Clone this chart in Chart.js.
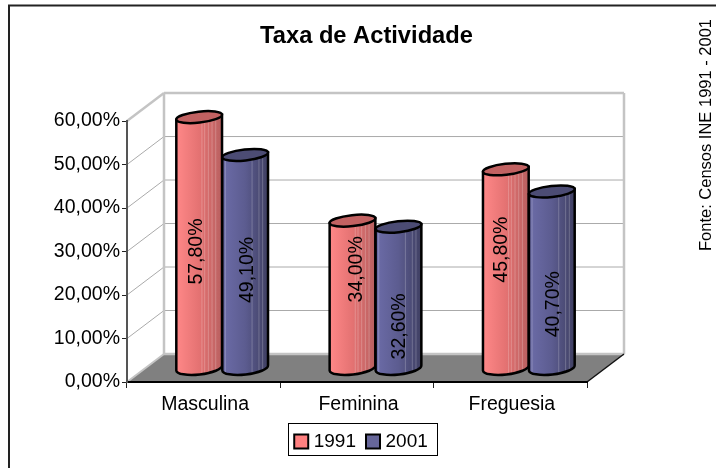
<!DOCTYPE html>
<html>
<head>
<meta charset="utf-8">
<style>html,body{margin:0;padding:0;background:#fff}canvas{display:block}</style>
<script src="https://cdn.jsdelivr.net/npm/chart.js@4/dist/chart.umd.js"></script>
</head>
<body>
<canvas id="c" width="716" height="468" style="width:716px;height:468px"></canvas>
<script>
const categories = ['Masculina', 'Feminina', 'Freguesia'];
const series1991 = [57.8, 34.0, 45.8];
const series2001 = [49.1, 32.6, 40.7];
const seriesNames = ['1991', '2001'];
const titleText = 'Taxa de Actividade';
const sourceText = 'Fonte: Censos INE 1991 - 2001';

const FONT = '"Liberation Sans", Arial, sans-serif';
const DEPTH_X = 37, DEPTH_Y = 28;        // oblique offset of the back wall
const BAR_DX = 18.5, BAR_DY = -13.5;     // cylinders stand mid-floor
const TILT = -0.11, CAP_RY = 5.5;
const shades = [
  {stops: ['#FF8888', '#E47272', '#B86060'], cap: '#C26262', streaks: [0.56, 0.62, 0.7, 0.78, 0.86]},
  {stops: ['#6C6CA8', '#5C5C90', '#3F3F62'], cap: '#4C4C74', streaks: [0.07, 0.65, 0.8, 0.88]}
];
// Excel placed its rotated labels irregularly: offsets from each bar's middle
const labelOffsets = [
  [{x: -3, y: 9}, {x: 4.5, y: -25}, {x: -4.3, y: -19}],
  [{x: 2.5, y: 8.5}, {x: 1.5, y: 29}, {x: 2, y: 24.5}]
];
const fmt = v => v.toFixed(2).replace('.', ',') + '%';

function line(ctx, x1, y1, x2, y2, color, width) {
  ctx.beginPath(); ctx.moveTo(x1, y1); ctx.lineTo(x2, y2);
  ctx.strokeStyle = color; ctx.lineWidth = width; ctx.stroke();
}

function drawCylinders(chart, index) {
  const {ctx} = chart;
  const shade = shades[index];
  chart.getDatasetMeta(index).data.forEach(el => {
    const {x, y, base, width} = el.getProps(['x', 'y', 'base', 'width'], true);
    const cx = x + BAR_DX, top = y + BAR_DY, bot = base + BAR_DY, rx = width / 2;
    const ex = rx * Math.cos(TILT), ey = rx * Math.sin(TILT);
    ctx.save();
    const body = new Path2D();
    body.moveTo(cx - ex, top - ey);
    body.lineTo(cx - ex, bot - ey);
    body.ellipse(cx, bot, rx, CAP_RY + 1, TILT, Math.PI, 0, true);
    body.lineTo(cx + ex, top + ey);
    body.closePath();
    const g = ctx.createLinearGradient(cx - rx, 0, cx + rx, 0);
    shade.stops.forEach((c, i) => g.addColorStop(i / (shade.stops.length - 1), c));
    ctx.fillStyle = g; ctx.fill(body);
    ctx.save(); ctx.clip(body);
    shade.streaks.forEach(f => line(ctx, cx - rx + f * width, top - 10, cx - rx + f * width, bot + 10, 'rgba(255,255,255,0.22)', 1));
    ctx.restore();
    ctx.strokeStyle = '#000'; ctx.lineWidth = 2.5; ctx.stroke(body);
    ctx.beginPath();
    ctx.ellipse(cx, top, rx, CAP_RY, TILT, 0, Math.PI * 2);
    ctx.fillStyle = shade.cap; ctx.fill(); ctx.stroke();
    ctx.restore();
  });
}

const scene = {
  id: 'scene',
  afterLayout(chart) {
    const shift = (box, d) => { box.left += d; box.right += d; };
    shift(chart.titleBlock, 73);
    shift(chart.legend, 69.5);
  },
  beforeDraw(chart) {
    const {ctx, chartArea: a, scales: {y}} = chart;
    const dx = DEPTH_X, dy = DEPTH_Y;
    ctx.save();
    // outer frame (cut off by the picture on the right and at the bottom)
    ctx.strokeStyle = '#222'; ctx.lineWidth = 2;
    ctx.strokeRect(9, 5.5, 760, 520);
    // floor
    ctx.beginPath();
    ctx.moveTo(a.left, a.bottom); ctx.lineTo(a.left + dx, a.bottom - dy);
    ctx.lineTo(a.right + dx, a.bottom - dy); ctx.lineTo(a.right, a.bottom); ctx.closePath();
    ctx.fillStyle = '#808080'; ctx.fill();
    // gridlines
    y.ticks.forEach(t => {
      if (t.value === 0 || t.value === y.max) return;
      const p = y.getPixelForValue(t.value);
      line(ctx, a.left, p, a.left + dx, p - dy, '#aaa', 1);
      line(ctx, a.left + dx, p - dy, a.right + dx, p - dy, '#aaa', 1);
    });
    // wall edges
    const edge = '#c4c4c4';
    line(ctx, a.left, a.top, a.left + dx, a.top - dy, edge, 2.5);
    line(ctx, a.left + dx, a.top - dy, a.right + dx, a.top - dy, edge, 2.5);
    line(ctx, a.left + dx, a.top - dy, a.left + dx, a.bottom - dy, edge, 2.5);
    line(ctx, a.right + dx, a.top - dy, a.right + dx, a.bottom - dy, edge, 2.5);
    line(ctx, a.left + dx, a.bottom - dy, a.right + dx, a.bottom - dy, edge, 2.5);
    line(ctx, a.left, a.bottom, a.left + dx, a.bottom - dy, edge, 2);
    line(ctx, a.right, a.bottom, a.right + dx, a.bottom - dy, '#111', 1.5);
    ctx.restore();
  },
  beforeDatasetDraw() {
    return false;           // cylinders replace the flat bars
  },
  afterDatasetsDraw(chart) {
    const {ctx} = chart;
    chart.data.datasets.forEach((ds, i) => drawCylinders(chart, i));
    ctx.save();
    ctx.font = '19.5px ' + FONT; ctx.fillStyle = '#000';
    ctx.textAlign = 'center'; ctx.textBaseline = 'middle';
    chart.data.datasets.forEach((ds, i) => {
      chart.getDatasetMeta(i).data.forEach((el, j) => {
        const {x, y, base} = el.getProps(['x', 'y', 'base'], true);
        const off = labelOffsets[i][j];
        ctx.save();
        ctx.translate(x + BAR_DX + off.x, (y + base) / 2 + BAR_DY + off.y);
        ctx.rotate(-Math.PI / 2);
        ctx.fillText(fmt(ds.data[j]), 0, 0);
        ctx.restore();
      });
    });
    // source note
    ctx.font = '16.5px ' + FONT;
    ctx.translate(706.5, 135);
    ctx.rotate(-Math.PI / 2);
    ctx.fillText(sourceText, 0, 0);
    ctx.restore();
    // legend frame
    const lg = chart.legend, mx = (lg.left + lg.right) / 2, my = (lg.top + lg.bottom) / 2;
    ctx.save();
    ctx.strokeStyle = '#000'; ctx.lineWidth = 1;
    ctx.strokeRect(Math.round(mx - 75) + 0.5, Math.round(my - 16.5) + 0.5, 149, 32);
    ctx.restore();
  }
};

new Chart(document.getElementById('c'), {
  type: 'bar',
  plugins: [scene],
  data: {
    labels: categories,
    datasets: [
      {label: seriesNames[0], data: series1991, backgroundColor: '#FF8080', borderColor: '#000', borderWidth: 2},
      {label: seriesNames[1], data: series2001, backgroundColor: '#666699', borderColor: '#000', borderWidth: 2}
    ]
  },
  options: {
    responsive: false,
    animation: false,
    events: [],
    layout: {padding: {left: 0, right: 129, top: 0, bottom: 7}},
    categoryPercentage: 0.6,
    barPercentage: 1,
    scales: {
      x: {
        afterFit: s => { s.height = 36; },
        grid: {drawOnChartArea: false, drawTicks: true, tickLength: 6, tickColor: '#222', tickWidth: 1},
        border: {color: '#000', width: 2},
        ticks: {color: '#000', font: {family: FONT, size: 19.5}, padding: 5, maxRotation: 0, labelOffset: 1.5}
      },
      y: {
        min: 0, max: 60,
        afterFit: s => { s.width = 127; },
        grid: {drawOnChartArea: false, drawTicks: true, tickLength: 5, tickColor: '#222', tickWidth: 1},
        border: {color: '#555', width: 2},
        ticks: {stepSize: 10, color: '#000', font: {family: FONT, size: 19.5}, padding: 2, callback: v => fmt(v)}
      }
    },
    plugins: {
      tooltip: {enabled: false},
      title: {
        display: true, text: titleText, color: '#000',
        font: {family: FONT, size: 23.7, weight: 'bold', lineHeight: 1.2},
        padding: {top: 22, bottom: 70.6}
      },
      legend: {
        position: 'bottom',
        labels: {
          color: '#000', font: {family: FONT, size: 19},
          usePointStyle: true, pointStyle: 'rect', boxWidth: 6, boxHeight: 14, padding: 14
        }
      }
    }
  }
});
</script>
</body>
</html>
